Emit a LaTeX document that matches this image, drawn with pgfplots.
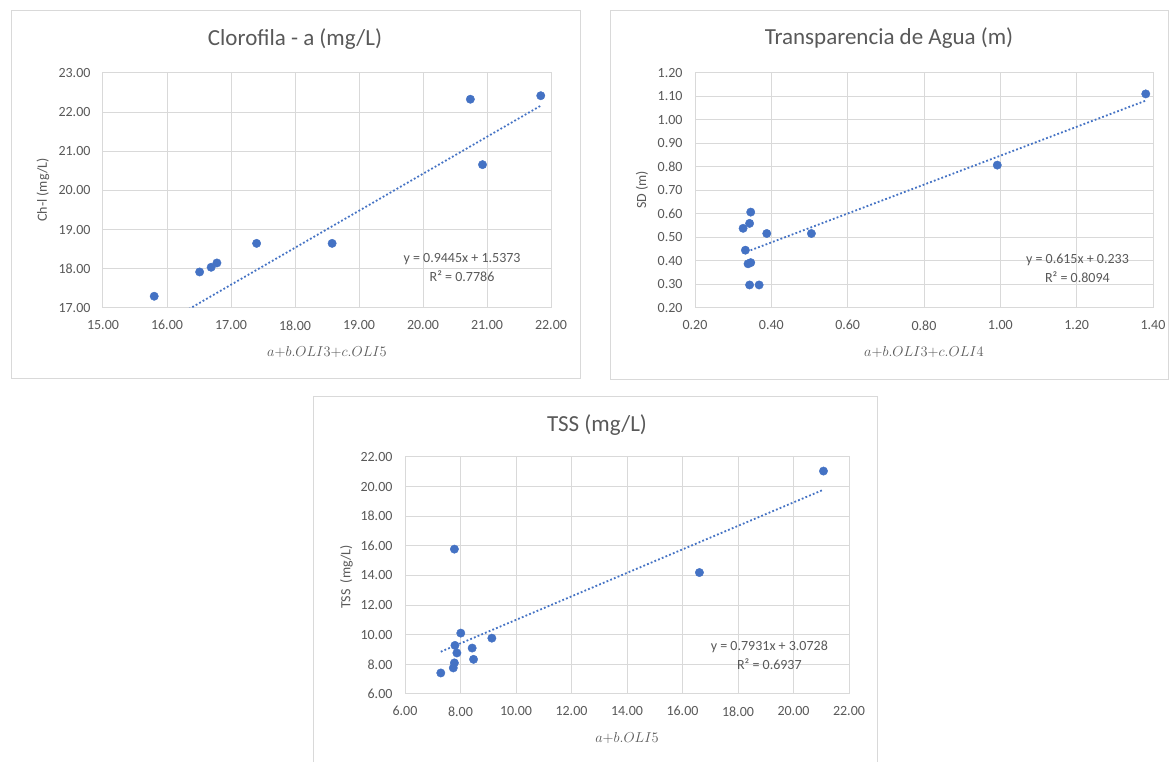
\documentclass[border=0pt]{standalone}
\usepackage{pgfplots}
\pgfplotsset{compat=1.18}
\usepackage{fontspec}
\setmainfont{Carlito}
\definecolor{txt}{HTML}{595959}
\definecolor{grd}{HTML}{D9D9D9}
\definecolor{dot}{HTML}{4472C4}
\pgfplotsset{
 xl/.style={
  scale only axis, anchor=south west,
  axis line style={grd, line width=1pt},
  grid=major, major grid style={grd, line width=1pt},
  tick style={draw=none},
  ticklabel style={font=\fontsize{14}{16}\selectfont, text=txt},
  /pgf/number format/fixed, /pgf/number format/fixed zerofill,
  /pgf/number format/precision=2, /pgf/number format/assume math mode=true,
  xticklabel style={yshift=-9pt},
  yticklabel style={xshift=-9pt},
  clip=true,
 },
 pts/.style={only marks, mark=*, mark size=4.2pt, mark options={fill=dot, draw=dot, line width=0.4pt}, color=dot},
 trend/.style={no marks, dot, line width=1.8pt, dash pattern=on 1.8pt off 2.2pt},
}
\begin{document}
\begin{tikzpicture}[x=1pt,y=1pt]
\path[use as bounding box] (0pt,0pt) rectangle (1170pt,762pt);
\fill[white] (0pt,0pt) rectangle (1170pt,762pt);
\draw[grd, line width=1pt] (11pt,751pt) rectangle (580pt,383pt);
\draw[grd, line width=1pt] (610pt,751pt) rectangle (1168pt,382pt);
\draw[grd, line width=1pt] (313pt,-2pt) -- (313pt,365pt) -- (877pt,365pt) -- (877pt,-2pt);

% Chart 1
\begin{axis}[xl, at={(103pt,454pt)}, width=448pt, height=235pt,
  xmin=15, xmax=22, ymin=17, ymax=23, xtick distance=1, ytick distance=1]
\addplot[pts] coordinates {(15.80,17.30) (16.51,17.92) (16.69,18.04) (16.78,18.15) (17.40,18.65) (18.58,18.65) (20.74,22.33) (20.93,20.66) (21.84,22.42)};
\addplot[trend] coordinates {(15.80,16.460) (21.84,22.165)};
\node[font=\fontsize{14}{19}\selectfont, text=txt, align=center] at (axis cs:20.61,18.03) {y = 0.9445x + 1.5373\\R² = 0.7786};
\end{axis}

% Chart 2
\begin{axis}[xl, at={(695pt,454pt)}, width=458pt, height=235pt,
  xmin=0.2, xmax=1.4, ymin=0.2, ymax=1.2, xtick={0.2,0.4,0.6,0.8,1.0,1.2,1.4},
  ytick={0.2,0.3,0.4,0.5,0.6,0.7,0.8,0.9,1.0,1.1,1.2}]
\addplot[pts] coordinates {(0.326,0.539) (0.343,0.560) (0.346,0.608) (0.388,0.517) (0.505,0.517) (0.332,0.446) (0.339,0.388) (0.346,0.393) (0.343,0.298) (0.368,0.298) (0.992,0.808) (1.381,1.111)};
\addplot[trend] coordinates {(0.326,0.4335) (1.381,1.0823)};
\node[font=\fontsize{14}{19}\selectfont, text=txt, align=center] at (axis cs:1.202,0.369) {y = 0.615x + 0.233\\R² = 0.8094};
\end{axis}

% Chart 3
\begin{axis}[xl, at={(405pt,68pt)}, width=444pt, height=237pt,
  xmin=6, xmax=22, ymin=6, ymax=22, xtick distance=2, ytick distance=2]
\addplot[pts] coordinates {(7.29,7.42) (7.74,7.76) (7.78,8.10) (7.80,9.28) (7.87,8.77) (8.01,10.11) (8.42,9.10) (8.47,8.34) (9.13,9.77) (7.78,15.78) (16.61,14.20) (21.08,21.05)};
\addplot[trend] coordinates {(7.29,8.8545) (21.08,19.7913)};
\node[font=\fontsize{14}{19}\selectfont, text=txt, align=center] at (axis cs:19.13,8.64) {y = 0.7931x + 3.0728\\R² = 0.6937};
\end{axis}

% Titles and labels
\node[font=\fontsize{23}{26}\selectfont, text=txt] at (295pt,723pt) {Clorofila - a (mg/L)};
\node[font=\fontsize{23}{26}\selectfont, text=txt] at (889pt,724pt) {Transparencia de Agua (m)};
\node[font=\fontsize{23}{26}\selectfont, text=txt] at (597pt,337pt) {TSS (mg/L)};
\node[font=\fontsize{14}{16}\selectfont, text=txt, rotate=90] at (43pt,572pt) {Ch-l (mg/L)};
\node[font=\fontsize{14}{16}\selectfont, text=txt, rotate=90] at (642pt,572pt) {SD (m)};
\node[font=\fontsize{14}{16}\selectfont, text=txt, rotate=90] at (346.5pt,185pt) {TSS~ (mg/L)};
\node[font=\fontsize{14}{16}\selectfont, text=txt] at (327pt,410pt) {$a{+}b.OLI3{+}c.OLI5$};
\node[font=\fontsize{14}{16}\selectfont, text=txt] at (924pt,410pt) {$a{+}b.OLI3{+}c.OLI4$};
\node[font=\fontsize{14}{16}\selectfont, text=txt] at (627pt,24pt) {$a{+}b.OLI5$};
\end{tikzpicture}
\end{document}
